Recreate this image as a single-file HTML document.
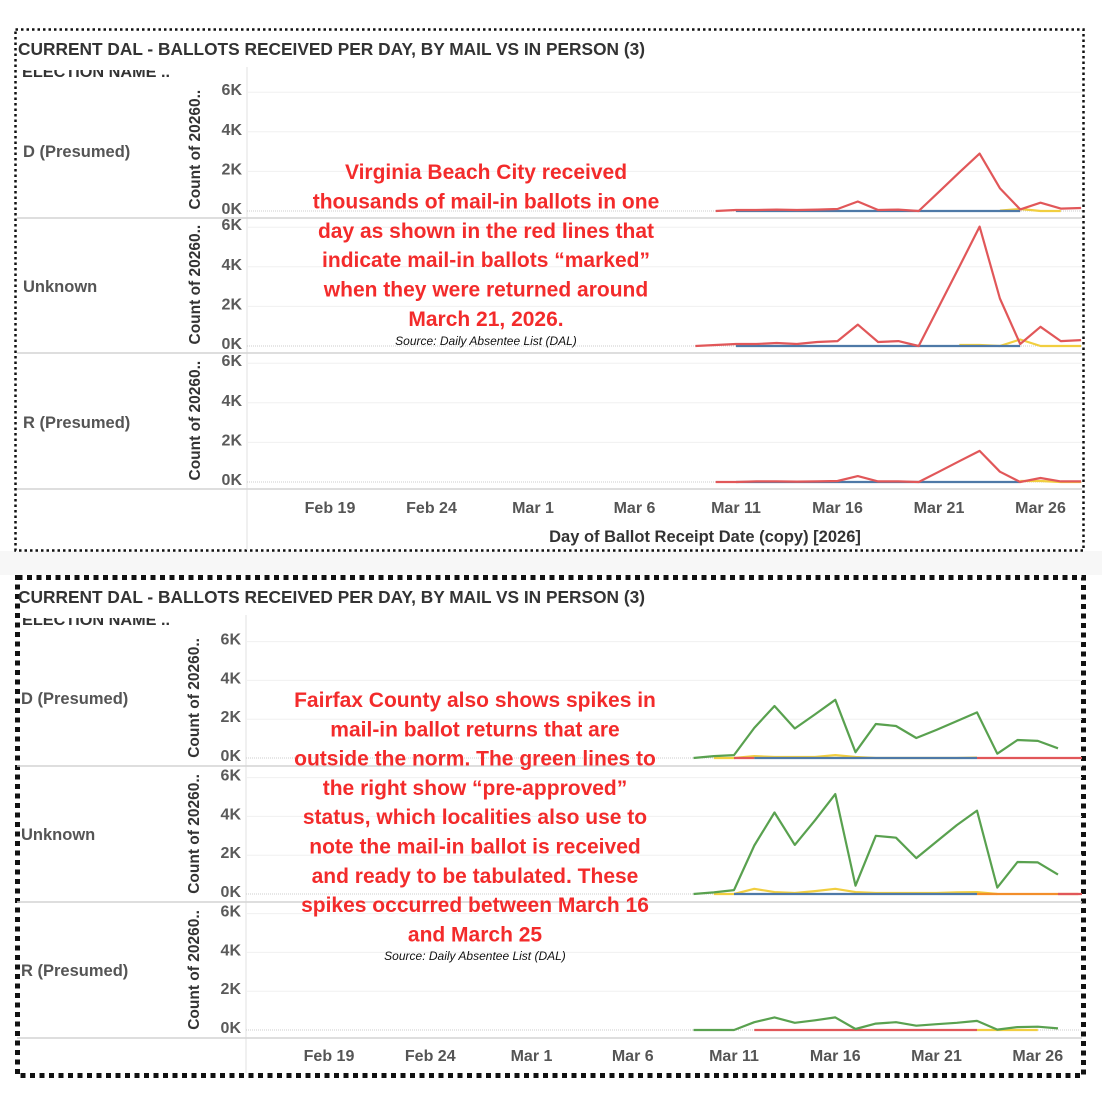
<!DOCTYPE html>
<html><head><meta charset="utf-8"><style>
html,body{margin:0;padding:0;background:#fff;}
svg{display:block;font-family:"Liberation Sans",sans-serif;}
</style></head><body>
<svg id="root" width="1102" height="1110" viewBox="0 0 1102 1110">
<defs><clipPath id="plotclip"><rect x="0" y="0" width="1082" height="1110"/></clipPath></defs>
<rect x="0" y="551" width="1102" height="24" fill="#f7f7f7"/>
<rect x="15.5" y="29.5" width="1068" height="521" fill="none" stroke="#111" stroke-width="2.5" stroke-dasharray="2.5,3"/>
<rect x="17.5" y="577.5" width="1066" height="498" fill="none" stroke="#111" stroke-width="5" stroke-dasharray="5,4.5"/>
<g id="charts"></g>
</svg>
<script>
// ---- data (values in thousands), day index 0 = Feb 19 ----
const xTickLabels = ["Feb 19","Feb 24","Mar 1","Mar 6","Mar 11","Mar 16","Mar 21","Mar 26"];
const yTickLabels = ["0K","2K","4K","6K"];
const panelNames = ["D (Presumed)","Unknown","R (Presumed)"];

// Top chart (Virginia Beach)
const topDRedStart = 19;
const topDRed = [0,0.05,0.05,0.07,0.05,0.07,0.1,0.48,0.05,0.07,0,0.97,1.95,2.9,1.15,0.08,0.42,0.12,0.15];
const topDBlueStart = 20;
const topDBlue = [0,0,0,0,0,0,0,0,0,0,0,0,0,0,0];
const topDYellowStart = 33;
const topDYellow = [0.02,0.1,0,0];
const topURedStart = 18;
const topURed = [0,0.05,0.1,0.1,0.15,0.1,0.2,0.25,1.08,0.2,0.25,0,2,4,6.03,2.4,0.1,0.97,0.25,0.3];
const topUBlueStart = 20;
const topUBlue = [0,0,0,0,0,0,0,0,0,0,0,0,0,0,0];
const topUYellowStart = 31;
const topUYellow = [0.05,0.05,0,0.33,0,0,0];
const topRRedStart = 19;
const topRRed = [0,0,0.03,0.03,0.02,0.03,0.05,0.3,0.03,0.03,0,0.52,1.05,1.57,0.52,0,0.2,0.03,0.03];
const topRBlueStart = 20;
const topRBlue = [0,0,0,0,0,0,0,0,0,0,0,0,0,0,0];
const topRYellowStart = 34;
const topRYellow = [0.05,0.05,0,0];

// Bottom chart (Fairfax)
const botDGreenStart = 18;
const botDGreen = [0,0.1,0.15,1.55,2.68,1.52,2.25,3.0,0.3,1.75,1.65,1.03,1.45,1.9,2.35,0.22,0.93,0.88,0.5];
const botDYellowStart = 19;
const botDYellow = [0,0,0.1,0.05,0.05,0.05,0.15,0.05,0,0,0,0,0,0.02];
const botDRedStart = 20;
const botDRed = [0,0];
const botDRed2Start = 32;
const botDRed2 = [0,0,0,0,0,0,0];
const botDBlueStart = 21;
const botDBlue = [0,0,0,0,0,0,0,0,0,0,0,0];
const botUGreenStart = 18;
const botUGreen = [0,0.08,0.2,2.5,4.2,2.53,3.8,5.15,0.43,3.0,2.9,1.85,2.7,3.55,4.3,0.33,1.65,1.63,1.0];
const botUYellowStart = 19;
const botUYellow = [0,0,0.27,0.1,0.05,0.15,0.27,0.1,0.05,0.05,0.05,0.05,0.08,0.1,0];
const botUOrangeStart = 32;
const botUOrange = [0,0,0,0,0,0];
const botURedStart = 36;
const botURed = [0,0,0];
const botUBlueStart = 20;
const botUBlue = [0,0,0,0,0,0,0,0,0,0,0,0,0];
const botRGreenStart = 18;
const botRGreen = [0,0,0,0.4,0.65,0.37,0.5,0.65,0.05,0.33,0.4,0.22,0.3,0.37,0.47,0.02,0.15,0.17,0.08];
const botRRedStart = 21;
const botRRed = [0,0,0,0,0,0,0,0,0,0,0,0];
const botRYellowStart = 32;
const botRYellow = [0,0,0,0];

const C = {red:"#e15759",blue:"#4e79a7",yellow:"#f1ce3f",green:"#59a14f",orange:"#f28e2b"};
const NS = "http://www.w3.org/2000/svg";
const root = document.getElementById("charts");
function mk(tag, attrs, parent, txt){
  const e = document.createElementNS(NS, tag);
  for (const k in attrs) e.setAttribute(k, attrs[k]);
  if (txt !== undefined) e.textContent = txt;
  (parent||root).appendChild(e);
  return e;
}

function drawChart(cfg){
  const g = mk("g", {});
  
  
  const xS = d => cfg.x0 + cfg.dx * d;
  const t = mk("text", {x:18, y:cfg.titleY, "font-size":17.5, "font-weight":"bold", fill:"#333", textLength:627, lengthAdjust:"spacingAndGlyphs"}, g, "CURRENT DAL - BALLOTS RECEIVED PER DAY, BY MAIL VS IN PERSON (3)");
  
  
  const h = mk("text", {x:22, y:cfg.titleY+22, "font-size":15.5, "font-weight":"bold", fill:"#333", textLength:148, lengthAdjust:"spacingAndGlyphs"}, g, "ELECTION NAME ..");
  
  
  mk("rect", {x:20, y:cfg.titleY+5, width:200, height:10, fill:"#fff"}, g);
  mk("line", {x1:cfg.divX, y1:cfg.titleY+12, x2:cfg.divX, y2:cfg.bottomY, stroke:"#e2e2e2", "stroke-width":1}, g);
  cfg.zeros.forEach((z, i) => {
    const yS = v => z - v * cfg.pk;
    const top = z - 6.4 * cfg.pk;
    [1,2,3].forEach(k => {
      const gl = mk("line", {x1:cfg.divX, x2:1082, y1:yS(k*2), y2:yS(k*2), stroke:"#f0f0f0", "stroke-width":1}, g);
      
      
    });
    mk("line", {x1:cfg.divX, x2:1082, y1:z, y2:z, stroke:"#ccc", "stroke-width":1, "stroke-dasharray":"1,1"}, g);
    mk("line", {x1:17, x2:1082, y1:z+cfg.sepOff, y2:z+cfg.sepOff, stroke:"#d4d4d4", "stroke-width":1.5}, g);
    yTickLabels.forEach((lb, k) => {
      const tl = mk("text", {x:cfg.divX-5, y:yS(k*2)+3, "font-size":16, "font-weight":"bold", fill:"#5a5a5a", "text-anchor":"end"}, g, lb);
      
      
    });
    const cy = (z + top) / 2 + 2;
    const yt = mk("text", {x:0, y:0, "font-size":15.5, "font-weight":"bold", fill:"#333", "text-anchor":"middle", transform:`translate(${cfg.divX-47},${cy}) rotate(-90)`}, g, "Count of 20260..");
    
    
    const rl = mk("text", {x:cfg.rowX, y:z - 54, "font-size":16.5, "font-weight":"bold", fill:"#555"}, g, panelNames[i]);
    
    
    const sg = mk("g", {"clip-path":"url(#plotclip)"}, g);
    cfg.series[i].forEach(s => {
      const pts = s.vals.map((v, j) => `${xS(s.start + j).toFixed(1)},${yS(v).toFixed(1)}`).join(" ");
      const pl = mk("polyline", {points:pts, fill:"none", stroke:C[s.c], "stroke-width":2.2, "stroke-linejoin":"round"}, sg);
      
      
    });
  });
  xTickLabels.forEach((lb, k) => {
    const xl = mk("text", {x:xS(k*5), y:cfg.xLabY, "font-size":16, "font-weight":"bold", fill:"#555", "text-anchor":"middle"}, g, lb);
    
    
  });
  return g;
}

drawChart({name:"top-chart", x0:330, dx:20.3, titleY:55, divX:247, bottomY:550, zeros:[211,346,482], pk:19.8, sepOff:7, rowX:23, xLabY:513,
  series:[
    [{c:"yellow",start:topDYellowStart,vals:topDYellow},{c:"blue",start:topDBlueStart,vals:topDBlue},{c:"red",start:topDRedStart,vals:topDRed}],
    [{c:"yellow",start:topUYellowStart,vals:topUYellow},{c:"blue",start:topUBlueStart,vals:topUBlue},{c:"red",start:topURedStart,vals:topURed}],
    [{c:"yellow",start:topRYellowStart,vals:topRYellow},{c:"blue",start:topRBlueStart,vals:topRBlue},{c:"red",start:topRRedStart,vals:topRRed}]
  ]});
drawChart({name:"bottom-chart", x0:329, dx:20.25, titleY:603, divX:246, bottomY:1073, zeros:[758,894,1030], pk:19.4, sepOff:8, rowX:21, xLabY:1061,
  series:[
    [{c:"yellow",start:botDYellowStart,vals:botDYellow},{c:"red",start:botDRedStart,vals:botDRed},{c:"red",start:botDRed2Start,vals:botDRed2},{c:"blue",start:botDBlueStart,vals:botDBlue},{c:"green",start:botDGreenStart,vals:botDGreen}],
    [{c:"yellow",start:botUYellowStart,vals:botUYellow},{c:"orange",start:botUOrangeStart,vals:botUOrange},{c:"red",start:botURedStart,vals:botURed},{c:"blue",start:botUBlueStart,vals:botUBlue},{c:"green",start:botUGreenStart,vals:botUGreen}],
    [{c:"yellow",start:botRYellowStart,vals:botRYellow},{c:"red",start:botRRedStart,vals:botRRed},{c:"green",start:botRGreenStart,vals:botRGreen}]
  ]});

const xt = mk("text", {x:705, y:542, "font-size":16.5, "font-weight":"bold", fill:"#333", "text-anchor":"middle"}, root, "Day of Ballot Receipt Date (copy) [2026]");



function note(lines, cx, y0, lh, srcY, name){
  const g = mk("g", {});
  
  
  lines.forEach((ln, i) => {
    mk("text", {x:cx, y:y0 + i*lh, "font-size":21, "font-weight":"bold", fill:"#f32b2b", "text-anchor":"middle"}, g, ln);
  });
  mk("text", {x:cx, y:srcY, "font-size":12, "font-style":"italic", fill:"#111", "text-anchor":"middle"}, g, "Source: Daily Absentee List (DAL)");
}
note(["Virginia Beach City received","thousands of mail-in ballots in one","day as shown in the red lines that","indicate mail-in ballots \u201cmarked\u201d","when they were returned around","March 21, 2026."], 486, 179, 29.4, 345, "annotation-virginia-beach");
note(["Fairfax County also shows spikes in","mail-in ballot returns that are","outside the norm. The green lines to","the right show \u201cpre-approved\u201d","status, which localities also use to","note the mail-in ballot is received","and ready to be tabulated. These","spikes occurred between March 16","and March 25"], 475, 707, 29.3, 960, "annotation-fairfax");
</script>
</body></html>
